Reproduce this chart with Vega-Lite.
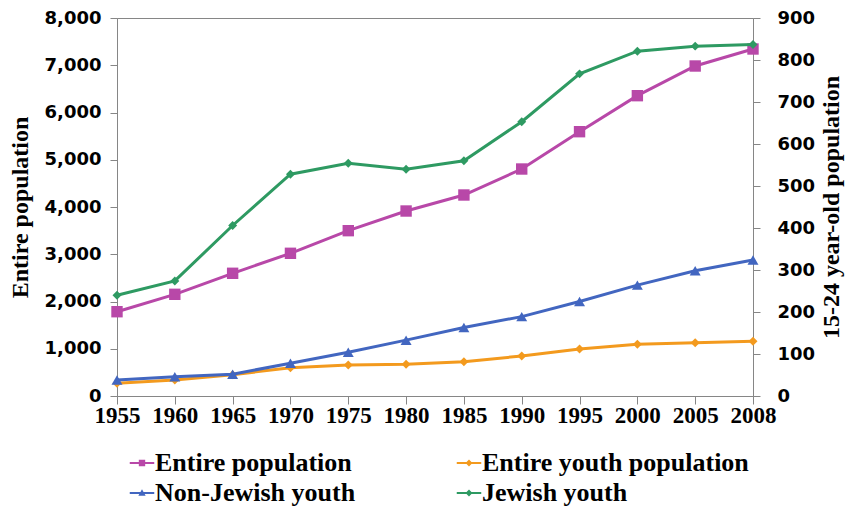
{
  "$schema": "https://vega.github.io/schema/vega-lite/v6.json",
  "width": 636,
  "height": 378,
  "autosize": {"type": "none"},
  "padding": {"left": 117, "top": 18, "right": 92, "bottom": 114},
  "background": "white",
  "config": {
    "view": {"stroke": "#868686", "strokeWidth": 1},
    "axis": {"domainColor": "#868686", "tickColor": "#868686", "grid": false, "labelColor": "black", "titleColor": "black"}
  },
  "datasets": {
    "left": [
      {"year": "1955", "series": "Entire population", "value": 1784},
      {"year": "1960", "series": "Entire population", "value": 2152},
      {"year": "1965", "series": "Entire population", "value": 2597},
      {"year": "1970", "series": "Entire population", "value": 3020},
      {"year": "1975", "series": "Entire population", "value": 3499},
      {"year": "1980", "series": "Entire population", "value": 3915},
      {"year": "1985", "series": "Entire population", "value": 4254},
      {"year": "1990", "series": "Entire population", "value": 4804},
      {"year": "1995", "series": "Entire population", "value": 5594},
      {"year": "2000", "series": "Entire population", "value": 6356},
      {"year": "2005", "series": "Entire population", "value": 6984},
      {"year": "2008", "series": "Entire population", "value": 7344},
      {"year": "1955", "series": "Entire youth population", "value": 269},
      {"year": "1960", "series": "Entire youth population", "value": 339},
      {"year": "1965", "series": "Entire youth population", "value": 451},
      {"year": "1970", "series": "Entire youth population", "value": 599},
      {"year": "1975", "series": "Entire youth population", "value": 656},
      {"year": "1980", "series": "Entire youth population", "value": 671},
      {"year": "1985", "series": "Entire youth population", "value": 726},
      {"year": "1990", "series": "Entire youth population", "value": 847},
      {"year": "1995", "series": "Entire youth population", "value": 995},
      {"year": "2000", "series": "Entire youth population", "value": 1094},
      {"year": "2005", "series": "Entire youth population", "value": 1128},
      {"year": "2008", "series": "Entire youth population", "value": 1158}
    ],
    "right": [
      {"year": "1955", "series": "Non-Jewish youth", "value": 38},
      {"year": "1960", "series": "Non-Jewish youth", "value": 46},
      {"year": "1965", "series": "Non-Jewish youth", "value": 52},
      {"year": "1970", "series": "Non-Jewish youth", "value": 78},
      {"year": "1975", "series": "Non-Jewish youth", "value": 104},
      {"year": "1980", "series": "Non-Jewish youth", "value": 133},
      {"year": "1985", "series": "Non-Jewish youth", "value": 163},
      {"year": "1990", "series": "Non-Jewish youth", "value": 189},
      {"year": "1995", "series": "Non-Jewish youth", "value": 225},
      {"year": "2000", "series": "Non-Jewish youth", "value": 264},
      {"year": "2005", "series": "Non-Jewish youth", "value": 298},
      {"year": "2008", "series": "Non-Jewish youth", "value": 324},
      {"year": "1955", "series": "Jewish youth", "value": 240},
      {"year": "1960", "series": "Jewish youth", "value": 274},
      {"year": "1965", "series": "Jewish youth", "value": 406},
      {"year": "1970", "series": "Jewish youth", "value": 528},
      {"year": "1975", "series": "Jewish youth", "value": 554},
      {"year": "1980", "series": "Jewish youth", "value": 540},
      {"year": "1985", "series": "Jewish youth", "value": 560},
      {"year": "1990", "series": "Jewish youth", "value": 653},
      {"year": "1995", "series": "Jewish youth", "value": 767},
      {"year": "2000", "series": "Jewish youth", "value": 821},
      {"year": "2005", "series": "Jewish youth", "value": 833},
      {"year": "2008", "series": "Jewish youth", "value": 837}
    ]
  },
  "encoding": {
    "x": {
      "field": "year", "type": "ordinal",
      "scale": {"type": "point", "padding": 0},
      "axis": {
        "title": null, "labelAngle": 0, "labelFont": "Liberation Serif", "labelFontWeight": "bold",
        "labelFontSize": 23, "tickSize": 8, "labelPadding": 0, "labelOverlap": false
      }
    },
    "color": {
      "field": "series", "type": "nominal",
      "scale": {
        "domain": ["Entire population", "Entire youth population", "Non-Jewish youth", "Jewish youth"],
        "range": ["#B848A8", "#F39A1E", "#4266C0", "#2E9A62"]
      }
    }
  },
  "layer": [
    {
      "data": {"name": "left"},
      "encoding": {
        "y": {
          "field": "value", "type": "quantitative",
          "scale": {"domain": [0, 8000], "nice": false},
          "axis": {
            "title": "Entire population", "titleFont": "Liberation Serif", "titleFontWeight": "bold", "titleFontSize": 24,
            "titlePadding": 12, "values": [0,1000,2000,3000,4000,5000,6000,7000,8000], "labelOverlap": false,
            "format": ",d", "labelFont": "DejaVu Sans", "labelFontWeight": "bold", "labelFontSize": 18,
            "tickSize": 7, "labelPadding": 9,
            "encode": {"ticks": {"update": {"x": {"value": 7}}}}
          }
        }
      },
      "layer": [
        {
          "mark": {"type": "line", "strokeWidth": 3},
          "encoding": {
            "color": {
              "field": "series", "type": "nominal",
              "legend": {
                "orient": "none", "legendX": 12, "legendY": 432, "direction": "horizontal", "columns": 2,
                "title": null, "labelFont": "Liberation Serif", "labelFontWeight": "bold", "labelFontSize": 26,
                "labelColor": "black", "symbolSize": 600, "labelOffset": 0, "columnPadding": 100, "rowPadding": 4,
                "labelLimit": 400,
                "encode": {
                  "symbols": {
                    "update": {
                      "shape": {"signal": "datum.value == 'Entire population' ? 'M-1,-0.08H1V0.08H-1Z M-0.26,-0.26H0.26V0.26H-0.26Z' : datum.value == 'Non-Jewish youth' ? 'M-1,-0.08H1V0.08H-1Z M0,-0.3L0.3,0.22L-0.3,0.22Z' : 'M-1,-0.08H1V0.08H-1Z M0,-0.28L0.28,0L0,0.28L-0.28,0Z'"},
                      "fill": {"scale": "color", "field": "value"},
                      "fillOpacity": {"value": 1},
                      "strokeWidth": {"value": 0},
                      "opacity": {"value": 1}
                    }
                  }
                }
              }
            }
          }
        },
        {
          "mark": {"type": "point", "filled": true, "opacity": 1},
          "encoding": {
            "shape": {
              "field": "series", "type": "nominal", "legend": null,
              "scale": {"domain": ["Entire population", "Entire youth population"], "range": ["square", "diamond"]}
            },
            "size": {
              "field": "series", "type": "nominal", "legend": null,
              "scale": {"domain": ["Entire population", "Entire youth population"], "range": [130, 80]}
            }
          }
        }
      ]
    },
    {
      "data": {"name": "right"},
      "encoding": {
        "y": {
          "field": "value", "type": "quantitative",
          "scale": {"domain": [0, 900], "nice": false},
          "axis": {
            "orient": "right",
            "title": "15-24 year-old population", "titleFont": "Liberation Serif", "titleFontWeight": "bold", "titleFontSize": 24,
            "titleAngle": 270, "titleBaseline": "top", "titlePadding": 5,
            "values": [0,100,200,300,400,500,600,700,800,900], "labelOverlap": false,
            "format": "d", "labelFont": "DejaVu Sans", "labelFontWeight": "bold", "labelFontSize": 18,
            "tickSize": 7, "labelPadding": 17,
            "encode": {"ticks": {"update": {"x": {"value": -7}}}}
          }
        }
      },
      "layer": [
        {
          "mark": {"type": "line", "strokeWidth": 3},
          "encoding": {"color": {"field": "series", "type": "nominal", "legend": null}}
        },
        {
          "mark": {"type": "point", "filled": true, "opacity": 1},
          "encoding": {
            "shape": {
              "field": "series", "type": "nominal", "legend": null,
              "scale": {"domain": ["Non-Jewish youth", "Jewish youth"], "range": ["triangle-up", "diamond"]}
            },
            "size": {
              "field": "series", "type": "nominal", "legend": null,
              "scale": {"domain": ["Non-Jewish youth", "Jewish youth"], "range": [120, 80]}
            }
          }
        }
      ]
    }
  ],
  "resolve": {"scale": {"y": "independent", "shape": "independent", "size": "independent"}}
}
